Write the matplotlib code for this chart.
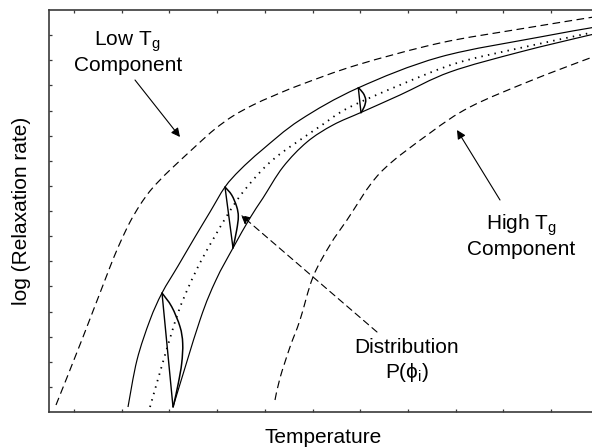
import matplotlib
matplotlib.use("Agg")
import matplotlib.pyplot as plt
from matplotlib.path import Path
from matplotlib.patches import PathPatch
import numpy as np

plt.rcParams['font.family'] = ['Liberation Sans', 'DejaVu Sans']
plt.rcParams['mathtext.fontset'] = 'custom'
plt.rcParams['mathtext.rm'] = 'Liberation Sans'

# ---- data (schematic units) ----
low_T = [7, 34, 61, 71, 81, 91, 101, 111, 121, 149, 166, 184, 204, 224, 251, 308, 391, 471, 551]
low_R = [7, 75, 145, 169, 190, 207, 221, 232, 242, 268, 283, 296, 307, 316, 327, 347, 369, 383, 396]

upper_T = [79, 88, 101, 113, 129, 146, 161, 176, 191, 213, 251, 309, 391, 491, 541, 551]
upper_R = [5, 52, 92, 119, 146, 175, 200, 225, 242, 262, 292, 324, 355, 375, 384, 386]

mid_T = [101, 116, 129, 140, 152, 166, 179, 191, 204, 217, 231, 251, 273, 299, 351, 408, 471, 541, 551]
mid_R = [5, 57, 99, 126, 151, 176, 198, 216, 232, 246, 258, 272, 287, 304, 327, 349, 364, 379, 381]

lower_T = [124, 151, 167, 184, 201, 214, 234, 258, 284, 313, 351, 401, 471, 541, 551]
lower_R = [5, 92, 132, 164, 194, 214, 245, 270, 287, 300, 317, 340, 360, 377, 379]

high_T = [226, 231, 241, 251, 264, 281, 298, 331, 381, 421, 481, 541, 551]
high_R = [12, 34, 65, 92, 135, 167, 192, 239, 279, 305, 331, 354, 357]

dist1_T = [113, 122.7, 131, 133.7, 132.7, 129.3, 125, 124]
dist1_R = [119, 105.3, 85.3, 68.7, 48.7, 28.7, 8.7, 5]
dist2_T = [176, 182.7, 187.7, 189.3, 187.7, 184]
dist2_R = [225, 217, 205.3, 195.3, 182, 164]
dist3_T = [309.3, 314.3, 316.7, 315.3, 312]
dist3_R = [324.3, 318.7, 312, 305.3, 299.3]


def smooth_path(xs, ys):
    """Catmull-Rom curve through the given points, drawn as cubic Bezier path."""
    p = np.column_stack([xs, ys]).astype(float)
    ext = np.vstack([p[0], p, p[-1]])
    verts = [p[0]]
    codes = [Path.MOVETO]
    for i in range(1, len(ext) - 2):
        p0, p1, p2, p3 = ext[i - 1], ext[i], ext[i + 1], ext[i + 2]
        c1 = p1 + (p2 - p0) / 6.0
        c2 = p2 - (p3 - p1) / 6.0
        verts += [c1, c2, p2]
        codes += [Path.CURVE4] * 3
    return Path(verts, codes)


def draw_curve(ax, xs, ys, **kw):
    patch = PathPatch(smooth_path(xs, ys), fill=False, capstyle='butt', **kw)
    ax.add_patch(patch)


# ---- figure ----
W, H = 592, 447
fig = plt.figure(figsize=(W / 100, H / 100), dpi=100)
ax = fig.add_axes([49 / W, (H - 412) / H, 574 / W, 402 / H])
ax.set_xlim(0, 574)
ax.set_ylim(0, 402)

spine_c = '#3a3a3a'
for s in ['left', 'bottom', 'top', 'right']:
    ax.spines[s].set_color(spine_c)
    ax.spines[s].set_linewidth(1.2)

ax.set_xticks(25 + 47.7 * np.arange(11))
ax.set_yticks(25.125 * np.arange(1, 16))
ax.tick_params(direction='in', length=2.5, width=0.9, color=spine_c,
               top=True, right=False, labelbottom=False, labelleft=False)

lw = 0.85
dash = (0, (6.5, 3.8))
draw_curve(ax, low_T, low_R, edgecolor='k', lw=lw, linestyle=dash)
draw_curve(ax, high_T, high_R, edgecolor='k', lw=lw, linestyle=dash)
draw_curve(ax, upper_T, upper_R, edgecolor='k', lw=lw)
draw_curve(ax, lower_T, lower_R, edgecolor='k', lw=lw)
draw_curve(ax, mid_T, mid_R, edgecolor='k', lw=1.3, linestyle=(0, (0.8, 2.9)))

for dT, dR in [(dist1_T, dist1_R), (dist2_T, dist2_R), (dist3_T, dist3_R)]:
    draw_curve(ax, dT, dR, edgecolor='k', lw=1.1)
    ax.plot([dT[0], dT[-1]], [dR[0], dR[-1]], color='k', lw=1.0)

arrow = dict(arrowstyle='-|>', color='k', lw=0.8, mutation_scale=13,
             shrinkA=0, shrinkB=0)
ax.annotate('', xy=(131, 275), xytext=(86, 332), arrowprops=arrow)
ax.annotate('', xy=(408, 282), xytext=(451, 212), arrowprops=arrow)
darrow = dict(arrow, linestyle=(0, (6, 4)))
ax.annotate('', xy=(192, 197), xytext=(328, 80), arrowprops=darrow)

fs = 15
ax.text(78, 367, r'Low T$_\mathregular{g}$', fontsize=fs, ha='center', va='baseline')
ax.text(79, 341, 'Component', fontsize=fs, ha='center', va='baseline')
ax.text(472, 183, r'High T$_\mathregular{g}$', fontsize=fs, ha='center', va='baseline')
ax.text(472, 157, 'Component', fontsize=fs, ha='center', va='baseline')
ax.text(358, 59, 'Distribution', fontsize=fs, ha='center', va='baseline')
ax.text(358, 34, r'P($\mathregular{\phi}_\mathregular{i}$)', fontsize=fs, ha='center', va='baseline')

fig.text(323 / W, (H - 443) / H, 'Temperature', fontsize=fs, ha='center', va='baseline')
fig.text(22 / W, (H - 211) / H, 'log (Relaxation rate)', fontsize=fs, ha='center',
         va='center', rotation=90)

fig.savefig('out.png', dpi=100)
